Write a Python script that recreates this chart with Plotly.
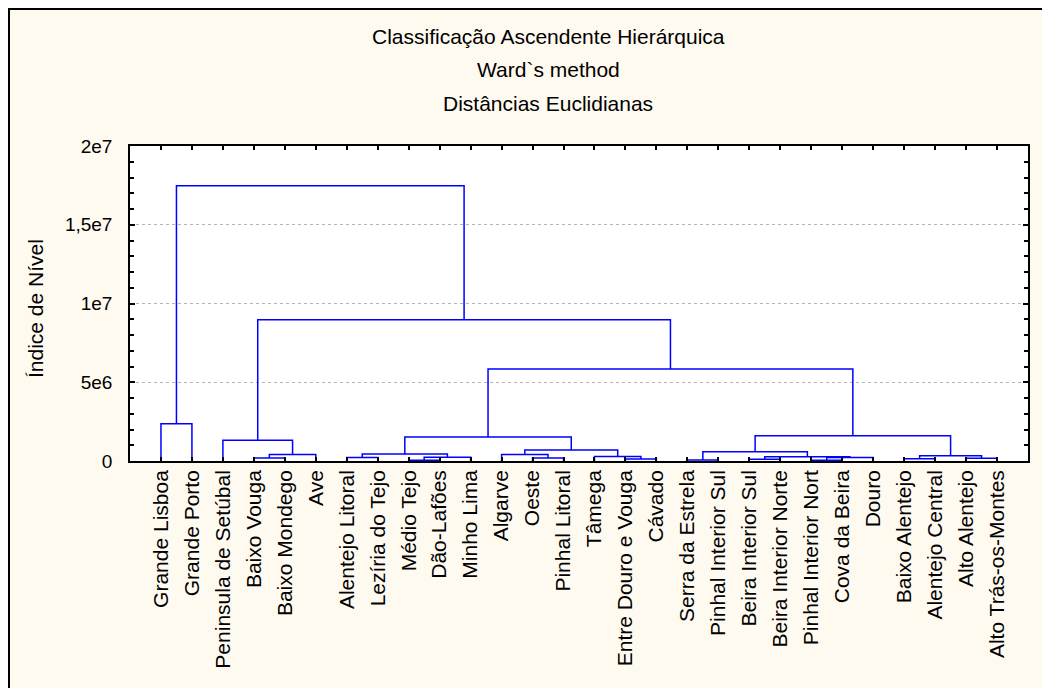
import plotly.graph_objects as go

# ---------------- data ----------------
leaves = ["Grande Lisboa", "Grande Porto", "Peninsula de Setúbal", "Baixo Vouga",
          "Baixo Mondego", "Ave", "Alentejo Litoral", "Lezíria do Tejo", "Médio Tejo",
          "Dão-Lafões", "Minho Lima", "Algarve", "Oeste", "Pinhal Litoral", "Tâmega",
          "Entre Douro e Vouga", "Cávado", "Serra da Estrela", "Pinhal Interior Sul",
          "Beira Interior Sul", "Beira Interior Norte", "Pinhal Interior Nort",
          "Cova da Beira", "Douro", "Baixo Alentejo", "Alentejo Central",
          "Alto Alentejo", "Alto Trás-os-Montes"]

# merges: node index = len(leaves) + merge number (scipy style)
merge_left = [8, 21, 17, 19, 15, 24, 26, 3, 12, 6, 29, 28, 31, 14, 33, 35, 11, 37,
              30, 44, 2, 45, 46, 0, 49, 48, 51]
merge_right = [9, 22, 18, 20, 16, 25, 27, 4, 13, 7, 23, 10, 38, 32, 34, 5, 36, 39,
               40, 41, 43, 47, 42, 1, 50, 52, 53]
merge_height = [0.05e6, 0.05e6, 0.06e6, 0.11e6, 0.13e6, 0.15e6, 0.17e6, 0.19e6,
                0.19e6, 0.22e6, 0.22e6, 0.24e6, 0.27e6, 0.29e6, 0.34e6, 0.42e6,
                0.42e6, 0.45e6, 0.59e6, 0.70e6, 1.31e6, 1.52e6, 1.61e6, 2.37e6,
                5.84e6, 8.97e6, 1.747e7]

y_tickvals = [0, 5e6, 1e7, 1.5e7, 2e7]
y_ticktext = ["0", "5e6", "1e7", "1,5e7", "2e7"]

titles = ["Classificação Ascendente Hierárquica", "Ward`s method", "Distâncias Euclidianas"]
y_title = "Índice de Nível"

# ---------------- build dendrogram path ----------------
n = len(leaves)
pos_x = {i: i + 1 for i in range(n)}
pos_h = {i: 0.0 for i in range(n)}
xs, ys = [], []
for k, (a, b, h) in enumerate(zip(merge_left, merge_right, merge_height)):
    xa, ha = pos_x[a], pos_h[a]
    xb, hb = pos_x[b], pos_h[b]
    xs += [xa, xa, xb, xb, None]
    ys += [ha, h, h, hb, None]
    pos_x[n + k] = (xa + xb) / 2
    pos_h[n + k] = h

# ---------------- layout geometry ----------------
# the page body adds an 8px offset, so the figure is 8px smaller and shifted
OFF = 8
W, H = 1050 - OFF, 688 - OFF
L, R, T, B = 130 - OFF, 1028 - OFF, 146 - OFF, 461 - OFF
FONT = "Liberation Sans, Arial, sans-serif"


def px_x(p):
    return (p - L) / (R - L)


def px_y(p):
    return (B - p) / (B - T)


fig = go.Figure()
fig.add_trace(go.Scatter(x=xs, y=ys, mode="lines",
                         line=dict(color="#0000FF", width=1.5),
                         hoverinfo="skip", showlegend=False))

fig.update_layout(
    width=W, height=H,
    margin=dict(l=L, r=W - R, t=T, b=H - B, pad=0, autoexpand=False),
    paper_bgcolor="white",
    plot_bgcolor="white",
    font=dict(family=FONT, color="black", size=19),
    showlegend=False,
)

fig.update_xaxes(
    range=[0, n + 1], automargin=False,
    tickmode="array", tickvals=list(range(1, n + 1)), ticktext=leaves,
    tickangle=-90, ticks="inside", ticklen=4, tickcolor="black", tickwidth=1.5,
    showline=True, linecolor="black", linewidth=1.5, mirror="ticks",
    showgrid=False, zeroline=False,
    tickfont=dict(family=FONT, size=21, color="black"),
    ticklabelstandoff=-1,
)
fig.update_yaxes(
    range=[0, 2e7], automargin=False,
    tickmode="array", tickvals=y_tickvals, ticktext=y_ticktext,
    ticks="inside", ticklen=5, tickcolor="black", tickwidth=1.5,
    minor=dict(dtick=1e6, ticks="inside", ticklen=4, tickcolor="black", showgrid=False),
    showline=True, linecolor="black", linewidth=1.5, mirror="ticks",
    showgrid=True, gridcolor="#b4b4b4", griddash="dot", gridwidth=1,
    zeroline=False,
    tickfont=dict(family=FONT, size=19, color="black"),
    ticklabelstandoff=12,
)

# outer cream panel with frame and white plot area
fig.add_shape(type="rect", xref="paper", yref="paper", layer="below",
              x0=px_x(1), x1=px_x(1038), y0=px_y(H + 10), y1=px_y(1),
              fillcolor="#FFFAF0", line=dict(color="black", width=2))
fig.add_shape(type="rect", xref="paper", yref="paper", layer="below",
              x0=0, x1=1, y0=0, y1=1, fillcolor="white", line=dict(width=0))

for txt, yc in zip(titles, [37 - OFF, 70 - OFF, 103 - OFF]):
    fig.add_annotation(text=txt, xref="paper", yref="paper", x=px_x(548 - OFF), y=px_y(yc),
                       xanchor="center", yanchor="middle", showarrow=False,
                       font=dict(family=FONT, size=21, color="black"))

fig.add_annotation(text=y_title, xref="paper", yref="paper", x=px_x(35 - OFF), y=px_y(309 - OFF),
                   xanchor="center", yanchor="middle", textangle=-90, showarrow=False,
                   font=dict(family=FONT, size=21, color="black"))

fig.write_html("out.html")
